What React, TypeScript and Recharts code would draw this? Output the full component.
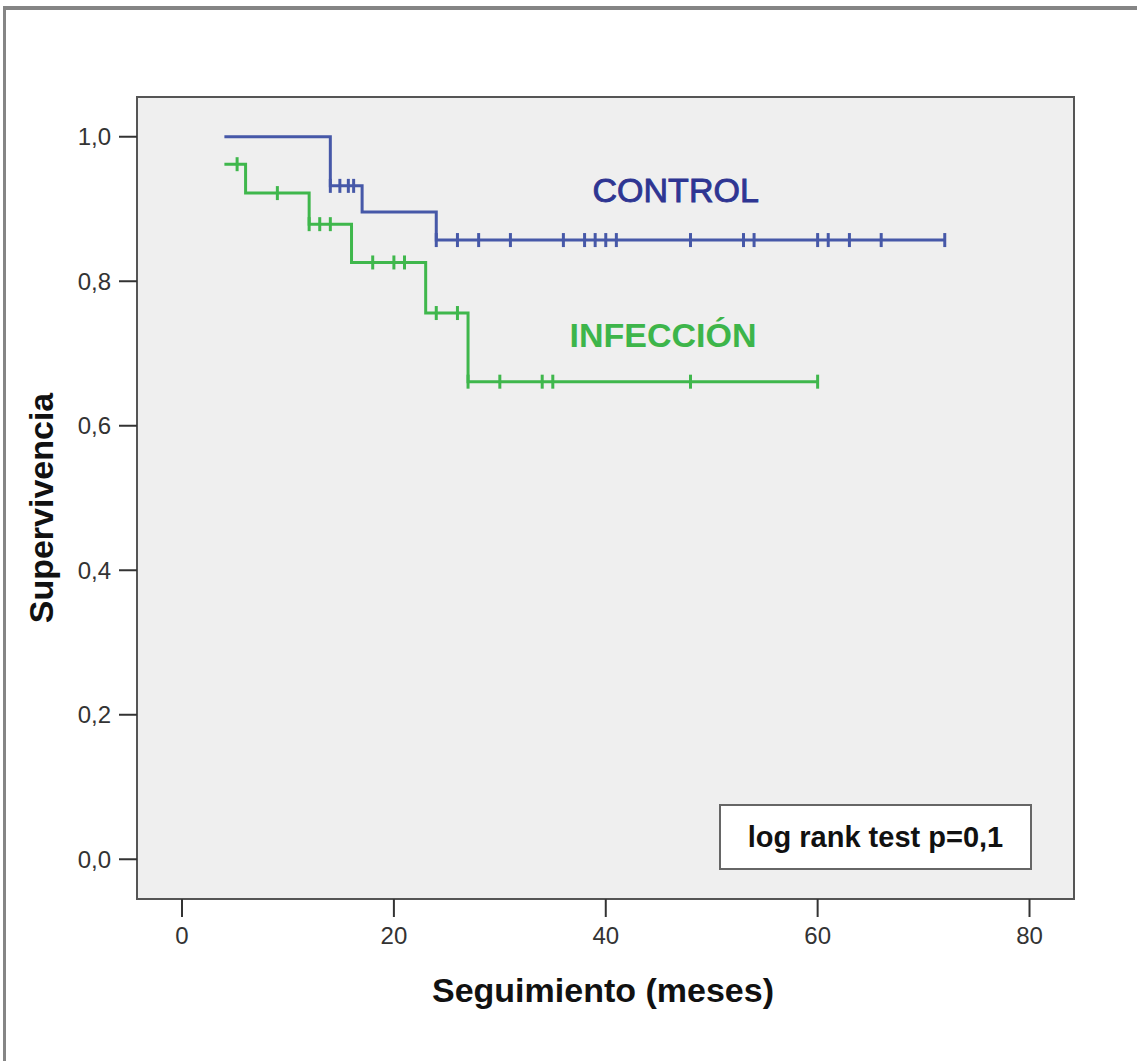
import React from 'react';
import {
  ComposedChart,
  Line,
  Scatter,
  XAxis,
  YAxis,
  ReferenceArea,
  ReferenceDot,
} from 'recharts';

// Kaplan-Meier steps (time in months, survival)
const controlEventTimes = [4, 14, 17, 24];
const controlEventSurv = [1.0, 0.932, 0.896, 0.857];
const controlEnd = 72;
const controlCensored = [14, 14.9, 15.7, 16.2, 24, 26, 28, 31, 36, 38, 39, 40, 41, 48, 53, 54, 60, 61, 63, 66, 72];

const infeccionEventTimes = [4, 6, 12, 16, 23, 27];
const infeccionEventSurv = [0.962, 0.922, 0.879, 0.826, 0.756, 0.661];
const infeccionEnd = 60;
const infeccionCensored = [5.2, 9, 12, 13, 14, 18, 20, 21, 24, 26, 27, 30, 34, 35, 48, 60];

const xTicks = [0, 20, 40, 60, 80];
const yTicks = [0, 0.2, 0.4, 0.6, 0.8, 1.0];

const X_DOMAIN: [number, number] = [-4.25, 84.2];
const Y_DOMAIN: [number, number] = [-0.055, 1.055];

const BLUE = '#4658a8';
const GREEN = '#3fb74c';

const buildSteps = (times: number[], surv: number[], end: number) => [
  ...times.map((t, i) => ({ t, s: surv[i] })),
  { t: end, s: surv[surv.length - 1] },
];

// survival level in force at time t (used to place censor marks on the curve)
const levelAt = (times: number[], surv: number[], t: number) => {
  let s = surv[0];
  times.forEach((et, i) => {
    if (t >= et) s = surv[i];
  });
  return s;
};

const controlSteps = buildSteps(controlEventTimes, controlEventSurv, controlEnd);
const infeccionSteps = buildSteps(infeccionEventTimes, infeccionEventSurv, infeccionEnd);
const controlMarks = controlCensored.map((t) => ({ t, s: levelAt(controlEventTimes, controlEventSurv, t) }));
const infeccionMarks = infeccionCensored.map((t) => ({ t, s: levelAt(infeccionEventTimes, infeccionEventSurv, t) }));

const censorShape = (color: string) => (props: any) => {
  const { cx, cy } = props;
  return <line x1={cx} y1={cy - 7} x2={cx} y2={cy + 7} stroke={color} strokeWidth={3} />;
};

const fmt = (v: number) => v.toFixed(1).replace('.', ',');

const FONT = 'Liberation Sans, Arial, sans-serif';

const App: React.FC = () => {
  return (
    <div
      style={{
        position: 'absolute',
        left: 0,
        top: 0,
        width: 1137,
        height: 1061,
        background: '#fff',
        fontFamily: FONT,
        overflow: 'hidden',
      }}
    >
      <div
        style={{
          position: 'absolute',
          left: 3,
          top: 6,
          width: 1200,
          height: 1100,
          borderLeft: '3px solid #858585',
          borderTop: '4px solid #858585',
          boxSizing: 'border-box',
        }}
      />
      <ComposedChart width={1137} height={1061} margin={{ top: 97, right: 63, bottom: 102, left: 37 }}>
        <XAxis
          dataKey="t"
          type="number"
          domain={X_DOMAIN}
          ticks={xTicks}
          allowDataOverflow
          axisLine={false}
          tickSize={18}
          tickMargin={10}
          height={60}
          tickLine={{ stroke: '#333', strokeWidth: 2 }}
          tick={{ fill: '#333', fontSize: 24, fontFamily: FONT }}
        />
        <YAxis
          type="number"
          domain={Y_DOMAIN}
          ticks={yTicks}
          allowDataOverflow
          axisLine={false}
          tickSize={18}
          tickMargin={8}
          width={100}
          tickFormatter={fmt}
          tickLine={{ stroke: '#333', strokeWidth: 2 }}
          tick={{ fill: '#333', fontSize: 24, fontFamily: FONT }}
        />
        <ReferenceArea
          x1={X_DOMAIN[0]}
          x2={X_DOMAIN[1]}
          y1={Y_DOMAIN[0]}
          y2={Y_DOMAIN[1]}
          fill="#efefef"
          fillOpacity={1}
          stroke="#555"
          strokeWidth={2}
        />
        <Line
          data={controlSteps}
          dataKey="s"
          type="stepAfter"
          stroke={BLUE}
          strokeWidth={3}
          dot={false}
          isAnimationActive={false}
        />
        <Line
          data={infeccionSteps}
          dataKey="s"
          type="stepAfter"
          stroke={GREEN}
          strokeWidth={3}
          dot={false}
          isAnimationActive={false}
        />
        <Scatter data={controlMarks} dataKey="s" shape={censorShape(BLUE)} isAnimationActive={false} />
        <Scatter data={infeccionMarks} dataKey="s" shape={censorShape(GREEN)} isAnimationActive={false} />
        <ReferenceDot
          x={46.6}
          y={0.927}
          r={0}
          stroke="none"
          label={{
            value: 'CONTROL',
            position: 'center',
            fill: '#2e3592',
            stroke: '#2e3592',
            strokeWidth: 0.9,
            fontSize: 34,
            fontFamily: FONT,
          }}
        />
        <ReferenceDot
          x={45.4}
          y={0.726}
          r={0}
          stroke="none"
          label={{ value: 'INFECCIÓN', position: 'center', fill: '#3db54a', fontSize: 34, fontWeight: 'bold', fontFamily: FONT }}
        />
      </ComposedChart>
      <div
        style={{
          position: 'absolute',
          left: 719,
          top: 804,
          width: 313,
          height: 66,
          border: '2px solid #666',
          background: '#fff',
          boxSizing: 'border-box',
          display: 'flex',
          alignItems: 'center',
          justifyContent: 'center',
          fontWeight: 'bold',
          fontSize: 29,
          color: '#111',
        }}
      >
        log rank test p=0,1
      </div>
      <div
        style={{
          position: 'absolute',
          left: 303,
          top: 972,
          width: 600,
          textAlign: 'center',
          fontWeight: 'bold',
          fontSize: 34,
          color: '#111',
          lineHeight: '36px',
        }}
      >
        Seguimiento (meses)
      </div>
      <div
        style={{
          position: 'absolute',
          left: 41,
          top: 508,
          width: 400,
          textAlign: 'center',
          fontWeight: 'bold',
          fontSize: 34,
          color: '#111',
          lineHeight: '36px',
          transform: 'translate(-50%, -50%) rotate(-90deg)',
        }}
      >
        Supervivencia
      </div>
    </div>
  );
};

export default App;
